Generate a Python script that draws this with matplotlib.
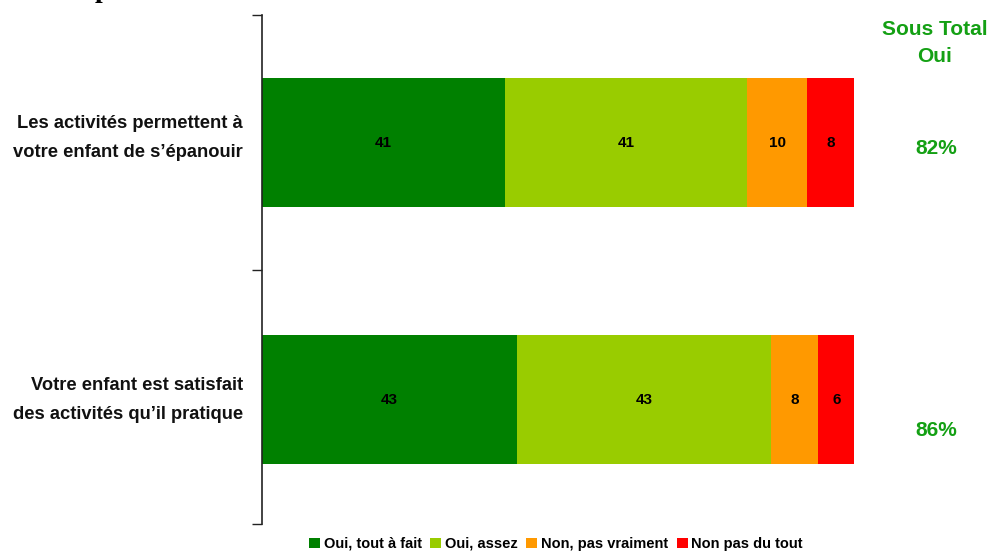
import matplotlib as mpl
mpl.use('Agg')
import matplotlib.pyplot as plt
import numpy as np

plt.rcParams['font.family'] = ['Liberation Sans', 'DejaVu Sans']

# data
categories = ["Les activités permettent à\nvotre enfant de s\u2019épanouir",
              "Votre enfant est satisfait\ndes activités qu\u2019il pratique"]
series_names = ["Oui, tout à fait", "Oui, assez", "Non, pas vraiment", "Non pas du tout"]
tout_a_fait = [41, 43]
assez = [41, 43]
pas_vraiment = [10, 8]
pas_du_tout = [8, 6]
sous_total = ["82%", "86%"]

colors = ['#008000', '#99CC00', '#FF9900', '#FF0000']
green_txt = '#14A014'

fig = plt.figure(figsize=(9.9, 5.54), dpi=100)
ax = fig.add_axes([262/990, 1 - 524/554, (854 - 262)/990, (524 - 15)/554])

ypos = np.array([0.501, 1.511])
left = np.zeros(2)
for vals, col, name in zip([tout_a_fait, assez, pas_vraiment, pas_du_tout], colors, series_names):
    vals = np.array(vals, dtype=float)
    ax.barh(ypos, vals, left=left, height=0.507, color=col, label=name, edgecolor='none')
    for y, l, v in zip(ypos, left, vals):
        ax.text(l + v / 2, y, '%d' % v, ha='center', va='center',
                fontsize=11, fontweight='bold', color='black')
    left = left + vals

ax.set_xlim(0, 100)
ax.set_ylim(2, 0)
ax.set_xticks([])
ax.set_yticks([0, 1, 2])
ax.set_yticklabels([])
ax.tick_params(axis='y', direction='out', length=7, width=1, color='#222222')
for s in ['top', 'right', 'bottom']:
    ax.spines[s].set_visible(False)
ax.spines['left'].set_color('#222222')
ax.spines['left'].set_linewidth(1.2)

# category labels
for y, lab, dy in zip(ypos, categories, [-0.016, 0.0]):
    ax.text(-0.032, y + dy, lab, transform=ax.get_yaxis_transform(),
            ha='right', va='center', fontsize=13.2, fontweight='bold',
            linespacing=1.92, color='#111111')

# sous total column
fig.text(935/990, 1 - 43/554, "Sous Total\nOui", ha='center', va='center',
         fontsize=15, fontweight='bold', color=green_txt, linespacing=1.57)
fig.text(936/990, 1 - 148/554, sous_total[0], ha='center', va='center',
         fontsize=15, fontweight='bold', color=green_txt)
fig.text(936/990, 1 - 430/554, sous_total[1], ha='center', va='center',
         fontsize=15, fontweight='bold', color=green_txt)

# cut-off title fragment at the top (the title itself is outside the picture)
fig.text(95/990, 1 + 3/554, "p", ha='left', va='baseline', fontsize=20,
         fontweight='bold', family='Liberation Serif')

fig.legend(loc='center', bbox_to_anchor=(556/990, 1 - 544/554), ncol=4,
           frameon=False, prop={'weight': 'bold', 'size': 10.5},
           handlelength=0.75, handleheight=0.75, handletextpad=0.25,
           columnspacing=0.6, borderpad=0)

fig.savefig('out.png', dpi=100)
